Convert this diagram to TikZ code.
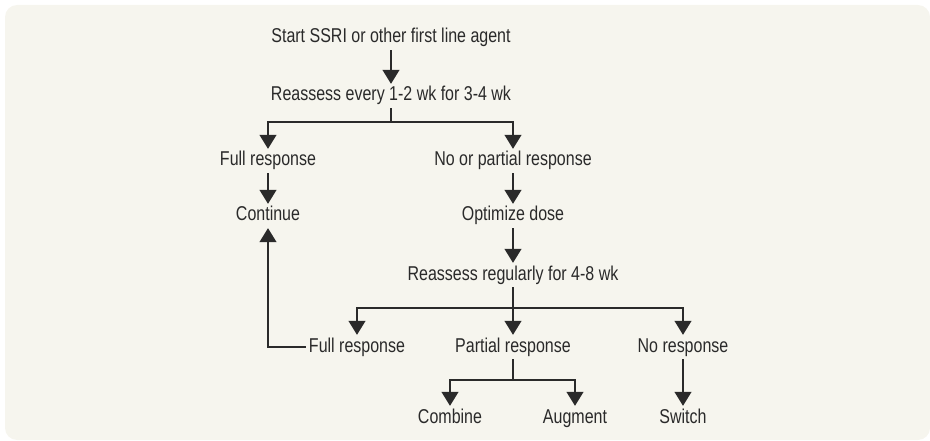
\documentclass[tikz,border=0pt]{standalone}
\usepackage{fontspec}
\setmainfont{Liberation Sans}[FakeStretch=0.8]
\usetikzlibrary{arrows.meta}
\definecolor{panelbg}{HTML}{F6F5EE}
\definecolor{inkgray}{HTML}{2A2A2A}
\begin{document}
\begin{tikzpicture}[
    x=1pt, y=-1pt,
    every node/.style={font=\fontsize{20}{22}\selectfont, text=inkgray,
      inner sep=3pt, text height=14pt, text depth=4pt},
    link/.style={draw=inkgray, line width=1.1pt},
    arr/.style={link, -{Triangle[width=17pt,length=14pt]}}
  ]

    \useasboundingbox (0,0) rectangle (930,441);
    \fill[panelbg, rounded corners=12pt] (5,5) rectangle (930,440);

    %------------------ First line ------------------%
    \node (start)   at (391,38)  {Start SSRI or other first line agent};
    \node (reassA)  at (391,96)  {Reassess every 1-2 wk for 3-4 wk};

    \draw[arr] (start) -- (reassA);

    % Branch 1
    \coordinate (splitA) at (391,122);
    \node (fullA)   at (268,161) {Full response};
    \node (partA)   at (513,161) {No or partial response};
    \node (cont)    at (268,216) {Continue};
    \node (optim)   at (513,216) {Optimize dose};

    \draw[link] (reassA) -- (splitA);
    \draw[arr] (splitA) -| (fullA);
    \draw[arr] (splitA) -| (partA);
    \draw[arr] (fullA) -- (cont);
    \draw[arr] (partA) -- (optim);

    %------------------ Second line ------------------%
    \node (reassB)  at (513,275) {Reassess regularly for 4-8 wk};
    \draw[arr] (optim) -- (reassB);

    % Branch 2
    \coordinate (splitB) at (513,308);
    \node (fullB)   at (357,347) {Full response};
    \node (partB)   at (513,347) {Partial response};
    \node (noneB)   at (683,347) {No response};

    \draw[link] (reassB) -- (splitB);
    \draw[arr] (splitB) -| (fullB);
    \draw[arr] (splitB) -- (partB);
    \draw[arr] (splitB) -| (noneB);

    % Back to continue
    \draw[arr] (fullB.west) -| (cont);

    % Branch 3
    \coordinate (splitC) at (513,380);
    \node (comb)    at (450,418) {Combine};
    \node (augm)    at (575,418) {Augment};
    \node (swit)    at (683,418) {Switch};

    \draw[link] (partB) -- (splitC);
    \draw[arr] (splitC) -| (comb);
    \draw[arr] (splitC) -| (augm);
    \draw[arr] (noneB) -- (swit);

  \end{tikzpicture}
\end{document}
